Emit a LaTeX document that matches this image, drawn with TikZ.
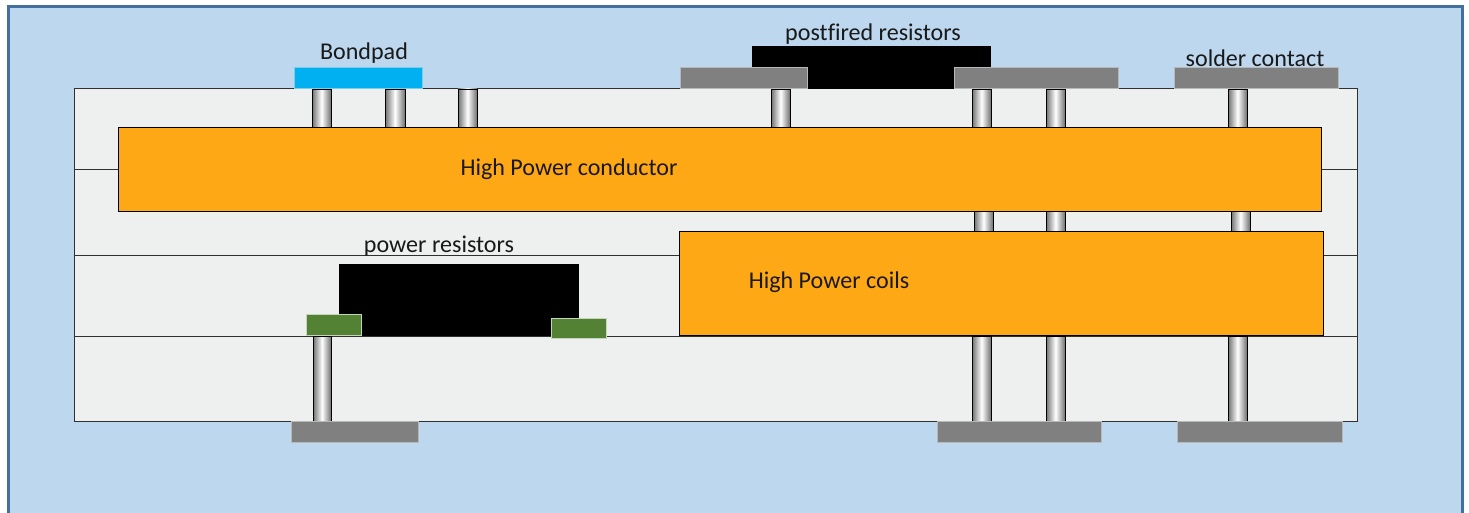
\documentclass[tikz,border=0pt]{standalone}
\usepackage{fontspec}
\setmainfont[Ligatures=NoCommon]{Carlito}
\definecolor{bgblue}{HTML}{BDD7EE}
\definecolor{frameblue}{HTML}{41719C}
\definecolor{layerfill}{HTML}{EEF0F0}
\definecolor{layerline}{HTML}{303030}
\definecolor{orangefill}{HTML}{FFA815}
\definecolor{padblue}{HTML}{00B0F0}
\definecolor{padedge}{HTML}{7FCBEA}
\definecolor{greypad}{HTML}{808080}
\definecolor{greyedge}{HTML}{B8B8B8}
\definecolor{greenpad}{HTML}{548235}
\definecolor{greenedge}{HTML}{C5D5BC}
\definecolor{pillardark}{HTML}{707070}
\newcommand{\boxat}[6]{\node[#1,minimum width=0.75pt*(#5-#3),minimum height=0.75pt*(#6-#4),anchor=north west] (#2) at (#3,#4) {};}
\tikzset{
  x=0.75pt,y=-0.75pt,
  every node/.style={inner sep=0pt,outer sep=0pt},
  layerbox/.style={rectangle,draw=layerline,line width=0.75pt,fill=layerfill},
  pillar/.style={rectangle,draw=black,line width=0.6pt,left color=pillardark,right color=pillardark,middle color=white},
  hotbox/.style={rectangle,draw=black,line width=0.6pt,fill=orangefill},
  blackbox/.style={rectangle,fill=black},
  greybox/.style={rectangle,draw=greyedge,line width=0.75pt,fill=greypad},
  bluebox/.style={rectangle,draw=padedge,line width=0.75pt,fill=padblue},
  greenbox/.style={rectangle,draw=greenedge,line width=0.75pt,fill=greenpad},
  lbl/.style={font=\fontsize{18.05pt}{20pt}\selectfont,text=black!90}
}
\begin{document}
\begin{tikzpicture}
\useasboundingbox (0,0) rectangle (1469,513);
\fill[white] (0,0) rectangle (1469,513);
\draw[frameblue,line width=2.25pt,fill=bgblue] (8.3,560) -- (8.3,7) -- (1462,7) -- (1462,560);
% layers
\boxat{layerbox}{layerA}{74}{89}{1357}{170}
\boxat{layerbox}{layerB}{74}{170}{1357}{255}
\boxat{layerbox}{layerC}{74}{255}{1357}{336}
\boxat{layerbox}{layerD}{74}{336}{1357}{421}
% top vias
\boxat{pillar}{viaA}{312}{89}{331}{127}
\boxat{pillar}{viaB}{385}{89}{405}{127}
\boxat{pillar}{viaC}{458}{89}{477}{127}
\boxat{pillar}{viaD}{771}{89}{790}{127}
\boxat{pillar}{viaE}{972}{89}{991}{127}
\boxat{pillar}{viaF}{1046}{89}{1065}{127}
\boxat{pillar}{viaG}{1228}{89}{1247}{127}
% middle vias
\boxat{pillar}{viaH}{974}{211}{993}{231}
\boxat{pillar}{viaI}{1046}{211}{1065}{231}
\boxat{pillar}{viaJ}{1231}{211}{1250}{231}
% bottom vias
\boxat{pillar}{viaK}{313}{336}{331}{421}
\boxat{pillar}{viaL}{972}{336}{991}{421}
\boxat{pillar}{viaM}{1046}{336}{1065}{421}
\boxat{pillar}{viaN}{1228}{336}{1247}{421}
% conductors
\boxat{hotbox}{conductor}{118}{127}{1321}{211}
\boxat{hotbox}{coils}{679}{231}{1323}{335}
% resistors
\boxat{blackbox}{postres}{752}{46}{991}{89}
\boxat{blackbox}{powres}{339}{264}{579}{336}
% pads
\boxat{bluebox}{bondpad}{294}{68}{422}{89}
\boxat{greybox}{padA}{680}{68}{807}{89}
\boxat{greybox}{padB}{954}{68}{1118}{89}
\boxat{greybox}{padC}{1174}{68}{1338}{89}
\boxat{greybox}{padD}{291}{421}{418}{442}
\boxat{greybox}{padE}{937}{421}{1101}{442}
\boxat{greybox}{padF}{1177}{421}{1342}{442}
\boxat{greenbox}{greenA}{306}{314}{361}{335}
\boxat{greenbox}{greenB}{551}{318}{606}{338}
% labels
\node[lbl] (tBond) at (364,53) {Bondpad};
\node[lbl] (tPost) at (873,34.5) {postfired resistors};
\node[lbl] (tSolder) at (1255,58) {solder contact};
\node[lbl] (tCond) at (569,169) {High Power conductor};
\node[lbl] (tCoils) at (829,282) {High Power coils};
\node[lbl] (tPow) at (439,246) {power resistors};
\end{tikzpicture}
\end{document}
